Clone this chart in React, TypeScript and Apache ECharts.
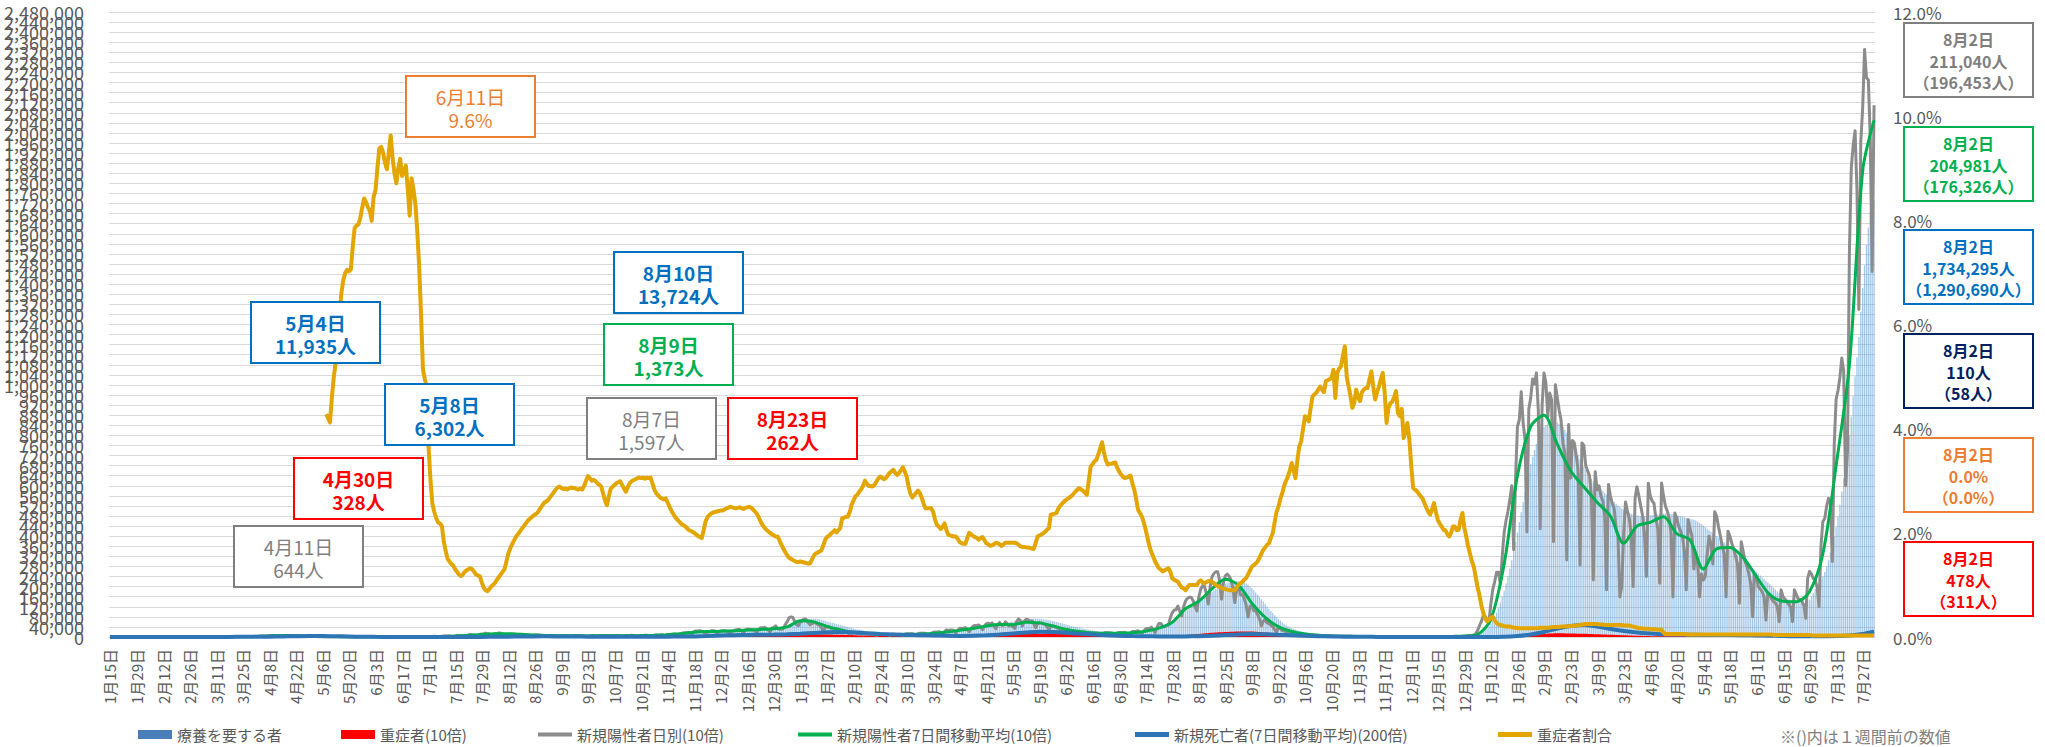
import { useEffect, useRef } from 'react';
import * as echarts from 'echarts';

const FONT = '"Noto Sans CJK JP", "Noto Sans", sans-serif';
const DAYS = 931; // 2020-01-15 .. 2022-08-02
const START_UTC = Date.UTC(2020, 0, 15);

// x categories (daily)
const categories: string[] = [];
for (let i = 0; i < DAYS; i++) {
  const dt = new Date(START_UTC + i * 86400000);
  categories.push(`${dt.getUTCMonth() + 1}月${dt.getUTCDate()}日`);
}

// left axis: 0 .. 2,480,000 every 40,000
const LEFT_MAX = 2480000;
const LEFT_STEP = 40000;
const leftTicks: number[] = [];
for (let v = 0; v <= LEFT_MAX; v += LEFT_STEP) leftTicks.push(v);

// 療養を要する者 (thousands of people), daily from 2020-01-15
const treatThousands = [
  0,0,0,0,0,0,0,0,0,0,0,0,0,0,0,0,0,
  0,0,0,0,0,0,0,0,0,0,0,0,0,0,0.1,0.1,0.1,0.1,0.1,0.1,0.1,0.1,0.1,0.1,0.1,0.2,0.2,0.2,0.2,
  0.2,0.2,0.2,0.2,0.3,0.3,0.3,0.3,0.3,0.4,0.4,0.4,0.4,0.5,0.5,0.5,0.5,0.5,0.6,0.6,0.7,0.7,0.7,0.8,0.8,0.9,1,1.1,1.3,1.4,1.5,
  1.7,1.9,2.1,2.4,2.7,2.9,3.1,3.5,3.9,4.4,5,5.5,5.9,6.3,6.7,7.2,7.7,8.2,8.7,9,9.3,9.7,10,10.3,10.6,10.8,11,11.3,11.5,11.7,
  11.8,11.9,11.9,11.9,11.6,11.3,11,6.3,6.1,5.9,5.7,5.4,5.1,4.8,4.5,4.2,4,3.8,3.6,3.3,3.1,2.9,2.7,2.5,2.4,2.2,2.1,2,1.9,1.8,1.7,
  1.6,1.5,1.4,1.4,1.3,1.2,1.2,1.1,1.1,1,1,0.9,0.9,0.9,0.8,0.8,0.8,0.8,0.8,0.8,0.8,0.8,0.8,0.8,0.9,0.9,0.9,1,1,1.1,
  1.2,1.3,1.4,1.5,1.6,1.7,1.8,1.9,2,2.1,2.3,2.5,2.7,2.9,3.1,3.3,3.5,3.8,4.1,4.4,4.7,5,5.4,5.8,6.2,6.6,7,7.5,8,8.5,9,
  9.6,10.1,10.6,11.1,11.6,12,12.5,12.9,13.3,13.7,13.6,13.5,13.3,13.1,12.9,12.7,12.4,12.1,11.8,11.5,11.2,10.9,10.6,10.3,10,9.7,9.4,9.1,8.8,8.5,8.2,
  8,7.7,7.4,7.2,7,6.8,6.6,6.4,6.2,6,5.8,5.7,5.6,5.5,5.4,5.3,5.2,5.1,5,5,4.9,4.9,4.8,4.8,4.7,4.7,4.6,4.6,4.6,4.6,
  4.6,4.6,4.6,4.6,4.6,4.6,4.6,4.6,4.6,4.6,4.7,4.7,4.7,4.7,4.8,4.8,4.8,4.9,4.9,5,5,5.1,5.1,5.2,5.2,5.3,5.4,5.5,5.6,5.7,5.8,
  6,6.2,6.4,6.6,6.9,7.2,7.5,7.9,8.3,8.7,9.2,9.8,10.5,11.3,12.1,12.9,13.7,14.5,15.3,16.1,16.9,17.7,18.5,19.2,19.8,20.3,20.7,21,21.3,21.5,
  21.7,21.9,22.1,22.3,22.6,22.9,23.2,23.5,23.8,24.1,24.4,24.8,25.2,25.6,26,26.5,27,27.5,28,28.5,29,29.5,30,30.7,31.4,32.1,32.8,33.6,34.4,35.3,36.2,
  37.5,39,40.5,42,44,46,48.5,51,53.5,56,58.5,61,63.5,65.5,67.5,69,70.5,71.5,72.5,73,72.5,71.5,70,68,66,64,62,60,58,56,54,
  52,50,48,46,44,42,40,38,36,34,32,30,28.5,27,25.5,24,23,22,21,20,19,18,17.5,17,16.5,16,15.5,15,
  14.5,14,13.8,13.6,13.4,13.2,13,12.8,12.7,12.6,12.5,12.5,12.5,12.5,12.6,12.7,12.8,13,13.2,13.4,13.6,13.9,14.2,14.6,15,15.5,16,16.5,17,17.6,18.2,
  19,19.8,20.6,21.4,22.3,23.2,24.2,25.2,26.2,27.3,28.4,29.5,30.7,31.9,33.1,34.3,35.5,36.8,38,39.5,41,42.5,44,45.5,47,48.5,50,51.5,53,54.5,
  56,57.5,59,60.5,62,63.5,65,66,67,68,69,70,71,72,72.5,73,73,72.5,72,71,70,69,68,66.5,65,63.5,62,60,58,56,54,
  52,50,48,46,44,42,40,38,36.5,35,33.5,32,30.5,29,27.5,26,25,24,23,22,21,20.5,20,19.5,19,18.5,18,17.8,17.6,17.5,
  17.4,17.4,17.5,17.6,17.8,18,18.3,18.7,19.2,19.8,20.5,21.3,22.2,23.2,24.3,25.6,27,28.7,30.6,32.8,35.4,38.3,41.5,45,48.8,52.8,57,61.5,66.5,72,78,
  84,90,96,102,108,114,120,125,130,135,140,146,152,158,164,170,175,180,185,190,195,200,204,208,211,214,217,219,220,221,222,
  222,221,219,216,212,207,201,194,186,177,168,159,150,141,131,121,112,103,95,87,79,72,65,59,53,48,43,39,35,32,
  29,26.5,24,22,20,18,16.5,15,13.5,12.3,11.2,10.2,9.3,8.5,7.8,7.1,6.5,6,5.5,5.1,4.7,4.4,4.1,3.8,3.6,3.4,3.2,3,2.9,2.8,2.7,
  2.6,2.5,2.4,2.3,2.2,2.1,2,2,1.9,1.9,1.8,1.8,1.7,1.7,1.7,1.6,1.6,1.6,1.5,1.5,1.5,1.5,1.5,1.5,1.5,1.5,1.5,1.5,1.5,1.5,
  1.5,1.5,1.5,1.5,1.5,1.5,1.5,1.6,1.6,1.6,1.6,1.7,1.7,1.7,1.8,1.8,1.9,1.9,2,2.1,2.2,2.3,2.4,2.5,2.6,2.8,3,3.2,3.5,3.9,4.4,
  5,5.8,6.8,8,10,13,17,22,28,35,43,53,65,80,97,116,137,160,185,212,241,272,305,340,377,415,455,495,535,575,615,
  650,685,715,742,766,787,805,820,832,841,848,852,854,855,854,851,846,840,832,822,810,797,783,768,752,736,720,705,
  690,676,663,650,638,627,617,608,600,592,585,578,571,564,557,550,543,536,529,522,516,510,505,500,496,492,489,486,484,482,481,
  480,480,480,481,482,483,484,485,486,487,488,489,490,490,490,489,488,487,485,483,481,479,477,475,473,471,469,467,465,462,
  458,453,448,442,436,430,424,418,412,406,400,394,388,382,376,370,363,356,349,342,335,328,321,314,307,300,293,286,279,272,265,
  258,251,244,237,230,223,216,209,202,195,188,181,175,169,163,158,153,149,145,142,139,137,135,134,134,135,137,141,148,160,
  175,190,203,214,226,240,258,280,305,335,365,398,435,478,525,577,630,680,735,800,875,955,1035,1110,1190,1291,1385,1475,1555,1625,1685,
  1715,1734,
];

// 新規陽性者 daily (hundreds of people), daily from 2020-01-15
const newCasesHundreds = [
  0,0,0,0,0,0,0,0,0,0,0,0,0,0,0,0,0,
  0,0,0,0,0,0,0,0,0,0,0,0,0,0,0,0,0,0,0,0,0,0,0,0,0,0,0,0,0,
  0,0,0,0,0,0,0,0,0,0,0,0,0,0,0,0,0,0,0,0,1,0,0,1,1,1,1,2,2,1,2,
  3,2,4,4,4,3,4,5,6,6,6,6,4,5,5,6,6,6,6,4,4,4,4,4,3,2,2,2,2,2,
  2,2,2,1,1,1,1,1,1,1,1,1,1,1,0,0,0,0,0,0,0,0,0,0,0,0,0,0,0,0,0,
  0,0,0,0,0,0,0,0,0,0,0,0,0,0,0,0,0,0,0,0,1,1,0,1,1,1,1,1,1,1,
  1,2,2,3,2,2,2,3,4,4,4,4,3,3,4,6,6,6,5,4,6,8,10,8,8,6,7,10,12,13,15,
  13,13,9,10,13,14,16,15,13,9,7,10,12,12,12,10,6,7,10,10,10,8,7,5,6,8,8,8,7,6,4,
  6,6,5,6,5,4,3,5,5,6,6,5,4,3,3,6,5,5,5,4,3,3,2,5,5,6,4,3,5,6,
  5,5,5,5,3,5,5,6,6,5,4,2,6,6,6,7,6,4,4,5,6,6,7,7,6,4,6,7,8,8,8,
  9,6,7,9,10,11,12,12,9,11,13,16,17,17,18,15,13,22,24,24,25,22,19,12,19,21,25,25,24,14,
  20,24,25,25,24,20,14,21,25,28,30,30,24,17,28,31,31,30,28,24,17,29,37,36,38,34,29,20,36,38,44,
  33,31,31,33,49,60,76,80,78,61,49,45,59,66,71,70,58,49,53,57,57,50,47,40,20,39,40,41,35,33,27,
  18,23,26,26,23,20,16,12,16,17,17,14,14,12,9,13,15,13,12,12,10,7,9,11,10,11,10,10,
  7,10,12,12,11,11,11,6,11,13,13,13,13,10,7,13,15,15,15,15,11,8,15,19,20,19,21,18,11,21,28,
  26,28,28,25,16,27,35,34,35,37,28,21,35,43,46,45,48,41,29,43,53,55,51,56,46,33,49,58,47,47,
  60,52,44,50,41,34,61,72,65,44,62,71,69,63,64,52,37,52,57,56,52,50,41,26,42,44,41,37,34,27,18,
  26,30,28,26,23,19,13,20,22,20,19,19,14,10,15,17,16,16,14,13,10,15,18,17,17,16,13,10,16,18,
  18,18,19,15,9,15,22,22,23,25,20,15,24,32,34,34,39,28,17,38,54,54,42,41,47,47,76,96,107,108,123,
  102,84,120,142,153,158,158,145,121,103,158,189,204,202,172,131,200,239,252,259,259,223,150,216,243,250,241,227,193,137,189,
  200,168,168,152,127,79,121,124,104,104,89,72,44,63,68,56,53,47,41,29,20,40,32,26,24,21,11,18,20,16,
  15,14,11,6,11,11,11,9,8,7,4,6,7,6,5,5,4,2,4,4,4,3,3,3,2,3,3,3,3,3,2,
  1,2,2,2,2,2,2,1,1,2,2,2,2,1,1,1,2,1,1,1,1,1,1,1,1,1,1,1,1,1,
  1,1,1,1,1,1,1,1,1,1,1,1,1,1,2,2,2,1,1,1,1,2,2,3,3,2,2,2,3,4,6,
  5,6,8,13,26,45,62,85,82,64,64,132,189,220,257,257,210,322,415,462,499,546,600,346,626,835,862,973,850,783,417,
  905,949,1024,1004,1048,899,430,918,1048,1009,874,968,942,378,1001,950,900,860,770,730,306,843,630,780,770,720,660,286,
  770,760,680,660,640,560,226,656,584,600,560,540,480,187,605,560,530,510,430,400,159,200,410,536,500,470,400,200,550,596,560,
  520,480,400,240,610,560,540,530,470,430,213,611,560,520,500,470,410,159,492,470,440,420,400,340,187,465,430,400,270,330,
  290,159,250,226,240,326,400,370,290,497,480,437,400,360,330,159,420,400,372,350,320,290,134,378,340,300,280,250,210,81,250,
  240,200,190,180,160,67,174,170,150,140,135,120,61,187,160,150,140,130,120,61,187,170,150,150,140,125,74,233,260,250,
  231,227,196,120,360,458,470,519,550,530,300,760,944,978,1030,1107,1056,600,740,1525,1862,1951,2009,1769,1300,1965,2097,2331,2220,2210,1980,
  1450,2110,
];

// 重症者割合 (units of 0.01 %), daily from 2020-05-08
const RATIO_START = 114;
const severeRatioBp = [
  428,420,412,460,499,527,570,620,660,685,699,705,702,706,750,785,790,792,805,825,842,835,825,818,
  799,845,858,900,938,941,930,910,898,930,963,920,890,871,900,918,885,895,905,860,809,881,860,832,780,713,620,514,495,481,
  362,300,256,240,228,220,218,213,183,165,150,145,140,137,130,125,120,117,120,125,128,130,132,130,125,120,118,117,105,95,90,
  88,92,97,100,104,110,115,120,125,130,145,160,170,178,185,192,197,202,207,212,217,222,226,229,232,235,237,242,248,253,258,
  260,263,268,273,278,283,287,289,286,284,285,283,285,287,286,286,284,283,285,283,290,300,309,305,300,302,299,295,292,289,
  275,262,253,270,285,289,292,295,297,299,292,285,279,288,295,299,301,303,305,306,305,306,304,306,305,306,295,283,276,272,268,
  266,264,266,258,250,242,236,230,226,222,218,215,213,210,206,204,202,200,197,194,192,190,205,222,230,234,237,239,240,241,
  242,243,243,245,247,248,250,249,248,247,248,249,247,246,248,249,250,248,245,241,237,230,222,215,210,206,203,200,197,195,193,
  193,185,177,170,163,157,152,150,148,146,144,144,145,144,143,142,141,141,148,156,160,162,164,166,175,186,192,194,198,201,205,
  201,205,209,228,229,231,231,240,254,262,270,273,279,283,290,300,295,290,290,289,292,298,304,308,306,303,305,310,
  315,318,321,315,311,315,320,326,318,308,289,275,268,272,277,281,276,267,255,247,247,247,247,240,225,215,212,207,212,218,205,
  196,195,194,193,193,188,182,180,179,179,190,200,197,194,192,190,187,190,192,186,180,178,175,176,178,181,180,178,175,178,
  181,181,181,181,181,181,180,177,174,173,173,172,172,171,170,169,180,193,195,197,199,202,206,209,235,236,237,238,247,252,256,
  260,263,266,268,271,275,279,283,286,283,281,277,273,300,327,332,337,340,350,362,374,355,340,331,332,333,334,335,325,318,
  312,308,305,306,308,310,295,283,265,244,238,231,220,206,190,174,163,154,145,138,132,129,126,128,130,132,125,113,110,108,106,
  100,95,93,90,95,100,100,100,100,100,106,109,105,103,105,107,108,106,103,100,98,96,94,93,92,91,90,90,90,90,95,
  100,103,106,110,113,120,128,135,138,141,145,152,160,167,172,177,180,190,199,220,240,250,265,276,290,300,308,320,334,320,
  305,340,366,376,400,424,420,414,440,462,466,469,475,481,475,470,491,493,495,498,513,459,507,515,520,540,558,500,481,462,440,
  450,475,460,453,470,475,478,478,495,510,480,456,470,481,495,507,470,411,440,449,452,460,472,430,424,438,382,395,411,380,
  330,286,283,280,275,270,266,257,248,240,235,245,257,240,225,218,212,206,205,198,193,200,212,212,205,206,225,238,210,193,174,
  160,145,135,115,95,80,60,46,36,30,33,37,39,32,27,24,23,22,21,20,20,20,19,18,18,17,17,17,17,17,17,
  17,17,17,17,17,17,18,18,18,18,18,18,19,19,19,19,19,20,20,20,20,21,21,21,22,22,22,23,
  24,24,25,25,25,25,25,25,25,24,24,24,23,23,23,23,23,23,23,23,23,23,22,22,22,22,21,20,19,18,17,
  17,16,16,16,16,15,15,15,15,14,14,14,8,6,6,6,6,6,6,6,6,6,6,6,5,5,5,5,5,5,
  5,5,5,5,5,5,5,5,5,5,5,5,5,5,5,5,5,5,5,5,5,5,5,5,5,5,5,5,5,5,5,
  5,5,5,5,5,5,5,5,5,4,4,4,4,4,4,4,4,4,4,4,4,4,4,4,4,4,4,4,4,3,
  3,3,3,3,3,3,3,3,3,3,3,3,3,3,3,3,3,3,3,3,3,3,3,3,3,3,3,3,3,3,3,
  3,3,
];

// Weekly readings (every Wednesday from 2020-01-15, plus 2022-08-02 as the last value)
// 新規陽性者 7日間移動平均 (people)
const avg7Weekly = [
  1,1,2, 2,3,10,15, 30,50,45,80, 200,400,560,470,250, 140,60,30,25, 40,45,50,80, 130,230,400,680,1000,
  1320,1250,1050,800, 600,520,500,440,480, 530,530,560,680, 900,1300,1850,2150, 2250,2450,2800,3000,3300,
  4000,6400,6000,4200, 2900,1850,1340,1060, 1000,1070,1200,1400,1950, 2650,3350,4360,4950, 4900,5900,5600,4400,
  3000,2150,1630,1460,1530, 1650,2300,3500,5800, 11200,14200,19100,22900, 20500,13400,7770,4090,2170,
  1200,740,430,300, 220,190,150,110, 120,120,150,200,370,
  1000,7000,29000,64000, 83500,88000,76500,66000, 59600,53500,48000,37200,44000, 45500,47700,41000,38500,
  27000,35000,35500,31500, 24000,16800,14200,14000,18000, 33000,68000,108000,185000, 204981,
];
// 新規死亡者 7日間移動平均 (people)
const deathsWeekly = [
  0,0,0, 0,0,0,0, 1,1,2,3, 4,6,10,15,20, 20,15,10,5, 3,2,1,1, 1,1,1,1,2, 4,7,10,12, 13,11,9,7,6, 6,6,6,6, 7,9,12,20, 30,35,40,45,48,
  55,65,80,95, 100,90,75,60, 50,42,35,30,25, 22,25,35,50, 70,90,105,100, 85,65,50,35,25, 18,14,12,10, 12,16,25,38,
  52,60,55,45,35, 25,16,10,6, 4,3,2,2, 1,1,1,1,1,
  1,2,6,20, 50,100,170,220, 240,210,160,120,90, 70,55,50,45, 40,38,38,35, 30,25,20,15,13, 14,20,30,60, 110,
];
// 重症者 (people)
const severeWeekly = [
  0,0,0, 0,0,0,0, 10,20,40,60, 80,130,220,290,325, 300,250,180,110, 80,70,60,45, 35,30,35,60,90,
  150,210,250,255, 220,190,170,160,150, 150,150,160,170, 180,210,270,410, 500,560,600,640,720,
  800,900,1000,1040, 900,740,600,480, 400,360,330,330,370, 450,580,770,920, 1050,1200,1300,1400,
  1200,1000,800,650,530, 450,450,500,600, 800,1200,1650,1950, 2200,2200,1800,1400,1000,
  650,420,270,180, 120,90,70,55, 45,30,25,25,30,
  50,90,230,530, 900,1250,1500,1400, 1250,1050,850,650,450, 330,280,250,200, 180,170,160,130,
  100,80,60,50,50, 60,100,190,311, 478,
];

// annotation texts
const leftNotes = [
  { x: 406, y: 76, color: '#ED7D31', lines: ['6月11日', '9.6%'], bold: false },
  { x: 251, y: 302, color: '#0070C0', lines: ['5月4日', '11,935人'], bold: true },
  { x: 385, y: 384, color: '#0070C0', lines: ['5月8日', '6,302人'], bold: true },
  { x: 294, y: 458, color: '#FF0000', lines: ['4月30日', '328人'], bold: true },
  { x: 234, y: 526, color: '#7F7F7F', lines: ['4月11日', '644人'], bold: false },
  { x: 614, y: 252, color: '#0070C0', lines: ['8月10日', '13,724人'], bold: true },
  { x: 604, y: 324, color: '#00B050', lines: ['8月9日', '1,373人'], bold: true },
  { x: 587, y: 398, color: '#7F7F7F', lines: ['8月7日', '1,597人'], bold: false },
  { x: 728, y: 398, color: '#FF0000', lines: ['8月23日', '262人'], bold: true },
];
const rightNotes = [
  { y: 23, color: '#7F7F7F', lines: ['8月2日', '211,040人', '（196,453人）'] },
  { y: 127, color: '#00B050', lines: ['8月2日', '204,981人', '（176,326人）'] },
  { y: 230, color: '#0070C0', lines: ['8月2日', '1,734,295人', '（1,290,690人）'] },
  { y: 334, color: '#002060', lines: ['8月2日', '110人', '（58人）'] },
  { y: 438, color: '#ED7D31', lines: ['8月2日', '0.0%', '（0.0%）'] },
  { y: 542, color: '#FF0000', lines: ['8月2日', '478人', '（311人）'] },
];

const LEGEND_ITEMS = [
  { name: '療養を要する者', left: 138, color: '#4A7EBB', h: 9 },
  { name: '重症者(10倍)', left: 341, color: '#FF0000', h: 9 },
  { name: '新規陽性者日別(10倍)', left: 538, color: '#8C8C8C', h: 4 },
  { name: '新規陽性者7日間移動平均(10倍)', left: 798, color: '#00B050', h: 4 },
  { name: '新規死亡者(7日間移動平均)(200倍)', left: 1135, color: '#2E75B6', h: 5 },
  { name: '重症者割合', left: 1498, color: '#E3A600', h: 5 },
];

function weeklyToDaily(weekly: number[], scale: number) {
  const out: (number | null)[] = new Array(DAYS).fill(null);
  weekly.forEach((v, i) => {
    const idx = i < weekly.length - 1 ? i * 7 : DAYS - 1;
    out[idx] = v * scale;
  });
  return out;
}

function buildBox(x: number, y: number, w: number, h: number, color: string, lines: string[], fontSize: number, bold: boolean, firstY: number, gap: number) {
  return {
    type: 'group',
    x,
    y,
    z: 100,
    children: [
      { type: 'rect', z: 100, shape: { x: 0, y: 0, width: w, height: h }, style: { fill: '#FFFFFF', stroke: color, lineWidth: 2 } },
      ...lines.map((t, i) => ({
        type: 'text',
        z: 101,
        x: w / 2,
        y: firstY + i * gap,
        style: {
          text: t,
          fill: color,
          fontSize,
          fontFamily: FONT,
          fontWeight: bold ? 'bold' : 'normal',
          textAlign: 'center',
          textVerticalAlign: 'middle',
          align: 'center',
          verticalAlign: 'middle',
        },
      })),
    ],
  };
}

const GRID_LEFT = 109;

export default function App() {
  const ref = useRef<HTMLDivElement>(null);

  useEffect(() => {
    document.body.style.margin = '0';
    if (!ref.current) return;
    const chart = echarts.init(ref.current, undefined, { renderer: 'svg' });

    const treat = treatThousands.slice(0, DAYS).map((v) => v * 1000);
    const cases = newCasesHundreds.slice(0, DAYS).map((v) => v * 100 * 10);
    const ratio: (number | null)[] = new Array(RATIO_START).fill(null).concat(severeRatioBp.map((v) => v / 100));

    const graphics: any[] = [];
    leftNotes.forEach((n) => graphics.push(buildBox(n.x, n.y, 129, 61, n.color, n.lines, 19, n.bold, 20, 23)));
    rightNotes.forEach((n) => graphics.push(buildBox(1904, n.y, 129, 74, n.color, n.lines, 16, true, 16, 21.5)));
    graphics.push({
      type: 'text',
      z: 100,
      x: 1780,
      y: 736,
      style: {
        text: '※()内は１週間前の数値',
        fill: '#808080',
        fontSize: 16,
        fontFamily: FONT,
        textVerticalAlign: 'middle',
        verticalAlign: 'middle',
      },
    });

    const option: any = {
      animation: false,
      backgroundColor: '#FFFFFF',
      textStyle: { fontFamily: FONT },
      grid: { left: GRID_LEFT, right: 170, top: 12, bottom: 110, containLabel: false },
      legend: LEGEND_ITEMS.map((it) => ({
        left: it.left,
        top: 727,
        padding: 0,
        icon: 'rect',
        itemWidth: 34,
        itemHeight: it.h,
        textStyle: { fontSize: 15, color: '#595959', fontFamily: FONT },
        data: [{ name: it.name, itemStyle: { color: it.color, borderWidth: 0 } }],
      })),
      xAxis: {
        type: 'category',
        data: categories,
        boundaryGap: true,
        axisLine: { lineStyle: { color: '#D9D9D9', width: 1 } },
        axisTick: { interval: 13, alignWithLabel: true, length: 5, lineStyle: { color: '#BFBFBF' } },
        axisLabel: { interval: 13, rotate: 90, fontSize: 15, color: '#595959', margin: 12, fontFamily: FONT },
        splitLine: { show: false },
      },
      yAxis: [
        {
          type: 'value',
          min: 0,
          max: LEFT_MAX,
          interval: LEFT_STEP,
          axisLine: { show: false },
          axisTick: { show: false },
          axisLabel: { show: false },
          splitLine: { lineStyle: { color: '#D9D9D9', width: 1 } },
        },
        {
          type: 'value',
          min: 0,
          max: 12,
          interval: 2,
          position: 'right',
          axisLine: { show: false },
          axisTick: { show: false },
          axisLabel: {
            fontSize: 17,
            color: '#595959',
            margin: 18,
            fontFamily: FONT,
            showMinLabel: true,
            showMaxLabel: true,
            formatter: (v: number) => v.toFixed(1) + '%',
          },
          splitLine: { show: false },
        },
      ],
      series: [
        {
          name: '療養を要する者',
          type: 'bar',
          data: treat,
          barCategoryGap: '30%',
          itemStyle: { color: 'rgba(91,155,213,0.55)' },
          z: 1,
        },
        {
          name: '重症者(10倍)',
          type: 'line',
          data: weeklyToDaily(severeWeekly, 10),
          connectNulls: true,
          symbol: 'none',
          smooth: 0.2,
          lineStyle: { width: 0, color: '#FF0000' },
          itemStyle: { color: '#FF0000' },
          areaStyle: { color: '#FF0000', opacity: 1 },
          z: 2,
        },
        {
          name: '新規陽性者日別(10倍)',
          type: 'line',
          data: cases,
          symbol: 'none',
          lineStyle: { width: 3, color: '#8C8C8C', join: 'round' },
          itemStyle: { color: '#8C8C8C' },
          z: 3,
        },
        {
          name: '新規陽性者7日間移動平均(10倍)',
          type: 'line',
          data: weeklyToDaily(avg7Weekly, 10),
          connectNulls: true,
          smooth: 0.3,
          symbol: 'none',
          lineStyle: { width: 3, color: '#00B050' },
          itemStyle: { color: '#00B050' },
          z: 4,
        },
        {
          name: '新規死亡者(7日間移動平均)(200倍)',
          type: 'line',
          data: weeklyToDaily(deathsWeekly, 200),
          connectNulls: true,
          smooth: 0.3,
          symbol: 'none',
          lineStyle: { width: 4, color: '#2E75B6' },
          itemStyle: { color: '#2E75B6' },
          z: 5,
        },
        {
          name: '重症者割合',
          type: 'line',
          yAxisIndex: 1,
          data: ratio,
          symbol: 'none',
          lineStyle: { width: 4, color: '#E3A600', join: 'round' },
          itemStyle: { color: '#E3A600' },
          z: 6,
        },
      ],
      graphic: graphics,
    };

    chart.setOption(option);

    // left-axis tick labels (all of them, overlapping as in the original), placed through the axis scale
    const labelEls = leftTicks.map((v) => {
      const py = chart.convertToPixel({ yAxisIndex: 0 }, v) as number;
      return {
        type: 'text',
        z: 50,
        x: GRID_LEFT - 25,
        y: py,
        style: {
          text: v.toLocaleString('en-US'),
          fill: '#595959',
          fontSize: 18,
          fontFamily: FONT,
          textAlign: 'right',
          textVerticalAlign: 'middle',
          align: 'right',
          verticalAlign: 'middle',
        },
      };
    });
    chart.setOption({ graphic: graphics.concat(labelEls) });

    return () => chart.dispose();
  }, []);

  return <div ref={ref} style={{ width: 2045, height: 747 }} />;
}
